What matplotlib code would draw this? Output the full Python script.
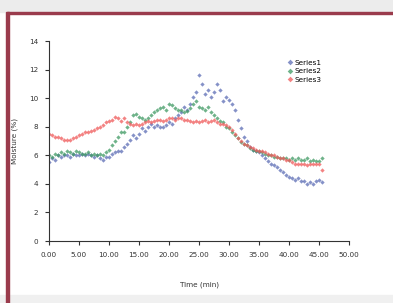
import numpy as np
import matplotlib
matplotlib.use("Agg")
import matplotlib.pyplot as plt
from matplotlib.patches import Rectangle

# sample times (min), one reading every half minute
time_min = np.arange(0, 46, 0.5)

series1 = [5.5, 5.8, 5.7, 6.0, 5.9, 6.0, 6.0, 5.9, 6.1, 6.0, 6.0, 6.1, 6.0, 6.1, 6.0, 5.9,
           6.0, 5.8, 5.7, 5.9, 5.9, 6.1, 6.2, 6.3, 6.3, 6.6, 6.8, 7.1, 7.4, 7.2, 7.5, 7.9,
           7.7, 8.0, 8.2, 8.0, 8.1, 8.0, 8.0, 8.1, 8.3, 8.2, 8.6, 8.8, 9.0, 9.4, 9.2, 9.6,
           10.1, 10.4, 11.6, 11.0, 10.3, 10.6, 10.1, 10.4, 11.0, 10.6, 9.8, 10.1, 9.9, 9.6,
           9.2, 8.5, 7.9, 7.3, 7.0, 6.6, 6.4, 6.3, 6.2, 6.0, 5.8, 5.6, 5.4, 5.3, 5.2, 5.0,
           4.8, 4.6, 4.5, 4.4, 4.3, 4.4, 4.2, 4.2, 4.0, 4.1, 4.0, 4.2, 4.3, 4.1]
series2 = [6.0, 5.9, 6.1, 6.0, 6.2, 6.1, 6.3, 6.2, 6.1, 6.3, 6.2, 6.1, 6.1, 6.2, 6.0, 6.1,
           6.0, 6.1, 6.0, 6.2, 6.4, 6.7, 7.0, 7.3, 7.6, 7.6, 8.0, 8.3, 8.8, 8.9, 8.7, 8.6,
           8.5, 8.6, 8.8, 9.0, 9.2, 9.3, 9.4, 9.2, 9.6, 9.5, 9.3, 9.2, 9.2, 9.0, 9.1, 9.3,
           9.6, 9.8, 9.4, 9.3, 9.2, 9.4, 9.0, 8.8, 8.6, 8.4, 8.3, 8.0, 7.9, 7.6, 7.4, 7.2,
           6.9, 6.8, 6.7, 6.5, 6.4, 6.3, 6.3, 6.2, 6.1, 6.0, 6.0, 5.9, 5.9, 5.8, 5.8, 5.8,
           5.7, 5.8, 5.7, 5.8, 5.7, 5.7, 5.8, 5.6, 5.7, 5.6, 5.6, 5.8]
series3 = [7.5, 7.4, 7.3, 7.3, 7.2, 7.1, 7.1, 7.1, 7.2, 7.3, 7.4, 7.5, 7.6, 7.6, 7.7, 7.8,
           7.9, 8.0, 8.1, 8.3, 8.4, 8.5, 8.7, 8.6, 8.4, 8.6, 8.3, 8.2, 8.1, 8.2, 8.1, 8.2,
           8.3, 8.4, 8.3, 8.4, 8.5, 8.5, 8.4, 8.5, 8.6, 8.6, 8.5, 8.6, 8.6, 8.5, 8.5, 8.4,
           8.3, 8.4, 8.3, 8.4, 8.5, 8.3, 8.4, 8.5, 8.3, 8.2, 8.2, 8.1, 8.0, 7.8, 7.5, 7.2,
           7.0, 6.8, 6.7, 6.6, 6.5, 6.4, 6.3, 6.3, 6.2, 6.1, 6.0, 6.0, 5.9, 5.8, 5.8, 5.7,
           5.7, 5.5, 5.4, 5.4, 5.4, 5.4, 5.3, 5.4, 5.4, 5.4, 5.4, 5.0]

series_names = ["Series1", "Series2", "Series3"]
series_colors = ["#5c6db5", "#3f9a63", "#f05a5a"]

x_ticks = np.arange(0, 55, 5)
y_ticks = np.arange(0, 16, 2)

fig = plt.figure(figsize=(3.93, 3.03), dpi=100)

# card frame: grey shadow strips, dark red border on top and left
fig.patches.append(Rectangle((0, 0.96), 1, 0.04, transform=fig.transFigure,
                             color="#ececec", zorder=0))
fig.patches.append(Rectangle((0, 0), 1, 0.025, transform=fig.transFigure,
                             color="#f0f0f0", zorder=0))
fig.patches.append(Rectangle((0.018, 0.953), 0.982, 0.007, transform=fig.transFigure,
                             color="#9a3b4c", zorder=1))
fig.patches.append(Rectangle((0.016, 0), 0.006, 0.96, transform=fig.transFigure,
                             color="#9a3b4c", zorder=1))

ax = fig.add_axes([0.1247, 0.2046, 0.7634, 0.66])
for vals, name, col in zip([series1, series2, series3], series_names, series_colors):
    ax.plot(time_min, vals, linestyle="none", marker="D", markersize=2.2,
            color=col, alpha=0.75, markeredgewidth=0, label=name)

ax.set_xlim(0, 50)
ax.set_ylim(0, 14)
ax.set_xticks(x_ticks)
ax.set_xticklabels([f"{t:.2f}" for t in x_ticks])
ax.set_yticks(y_ticks)
for side in ["top", "right"]:
    ax.spines[side].set_visible(False)
for side in ["left", "bottom"]:
    ax.spines[side].set_color("#333333")
    ax.spines[side].set_linewidth(0.8)
ax.tick_params(direction="out", length=3, width=0.8, colors="#333333",
               labelsize=5.2, pad=5)
ax.set_xlabel("Time (min)", fontsize=5.2, color="#333333", labelpad=17)
ax.set_ylabel("Moisture (%)", fontsize=5.2, color="#333333", labelpad=8)

ax.legend(loc="upper left", bbox_to_anchor=(0.77, 0.94), frameon=False,
          fontsize=5.2, handletextpad=0.1, labelspacing=0.35, markerscale=1.3,
          handlelength=1.0)

fig.savefig("out.png", dpi=100, facecolor="white")
